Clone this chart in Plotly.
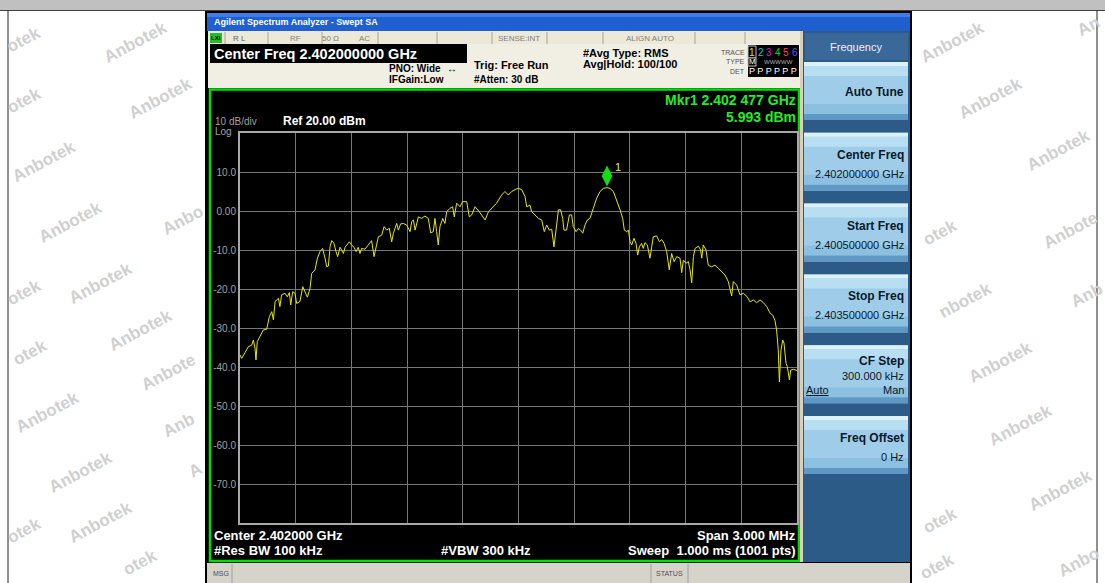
import plotly.graph_objects as go

W, H = 1105, 583
FONT = "Liberation Sans, Arial, sans-serif"

# ---------------- data ----------------
START_MHZ = 2400.5
STOP_MHZ = 2403.5
REF_DBM = 20.0
BOTTOM_DBM = -80.0

freq_offset_khz = [
    0, 9, 27, 45, 63, 72, 81, 86, 93, 108,
    126, 144, 158, 171, 180, 189, 207, 215, 224, 242,
    255, 266, 273, 284, 296, 305, 323, 338, 350, 363,
    377, 386, 404, 417, 431, 445, 458, 467, 476, 485,
    494, 506, 517, 526, 539, 557, 566, 578, 589, 601,
    614, 625, 637, 646, 655, 673, 691, 709, 722, 736,
    745, 763, 776, 790, 804, 817, 826, 844, 853, 865,
    880, 898, 916, 925, 934, 943, 961, 978, 996, 1014,
    1027, 1041, 1050, 1059, 1068, 1077, 1092, 1104, 1113, 1131,
    1145, 1154, 1167, 1185, 1199, 1221, 1235, 1248, 1266, 1289,
    1302, 1320, 1338, 1364, 1382, 1409, 1427, 1445, 1463, 1487,
    1499, 1517, 1535, 1544, 1562, 1571, 1589, 1607, 1625, 1634,
    1639, 1652, 1666, 1679, 1691, 1702, 1715, 1727, 1738, 1745,
    1759, 1774, 1786, 1795, 1810, 1822, 1835, 1846, 1858, 1871,
    1885, 1903, 1921, 1939, 1957, 1977, 1993, 2011, 2029, 2047,
    2061, 2070, 2083, 2092, 2101, 2110, 2122, 2133, 2142, 2151,
    2163, 2172, 2181, 2194, 2208, 2217, 2226, 2244, 2259, 2271,
    2284, 2298, 2312, 2325, 2338, 2352, 2370, 2379, 2388, 2402,
    2415, 2424, 2433, 2442, 2451, 2469, 2481, 2487, 2495, 2510,
    2522, 2540, 2558, 2576, 2594, 2612, 2630, 2648, 2657, 2675,
    2693, 2711, 2732, 2747, 2765, 2783, 2801, 2819, 2837, 2855,
    2869, 2881, 2890, 2899, 2905, 2914, 2923, 2930, 2941, 2948,
    2959, 2966, 2980, 3000,
]
level_dbm = [
    -36.9, -37.8, -36.3, -34.8, -34.4, -33.1, -35.2, -38.2, -33.5, -32.2,
    -30.5, -30.3, -27.1, -25.8, -27.9, -23.2, -22.4, -24.5, -21.5, -21.1,
    -22.0, -20.9, -24.1, -20.7, -21.1, -23.7, -23.2, -19.4, -20.7, -22.1,
    -19.8, -16.0, -15.1, -12.1, -10.4, -9.6, -12.1, -14.3, -14.1, -9.1,
    -7.6, -8.3, -10.4, -11.7, -9.3, -10.9, -9.3, -8.7, -7.9, -8.7,
    -9.3, -10.4, -9.3, -10.9, -9.6, -9.8, -8.7, -7.6, -11.7, -8.7,
    -6.6, -6.2, -4.0, -4.9, -4.4, -7.9, -5.7, -3.2, -4.9, -3.3,
    -3.2, -3.6, -5.3, -2.7, -2.3, -4.9, -1.5, -1.9, -1.3, -1.9,
    -5.6, -5.3, -1.9, -5.3, -8.7, -4.0, -1.9, -3.2, -0.2, 0.7,
    1.1, -1.5, 2.0, 1.1, 2.4, 2.4, -1.5, -1.0, 1.1, -0.2,
    -1.0, -2.3, -0.2, 1.1, 2.0, 4.1, 5.0, 4.1, 5.0, 5.6,
    5.8, 5.5, 3.7, 1.1, 1.5, -0.2, -1.0, -1.9, -2.3, -4.5,
    -5.3, -3.6, -4.9, -4.7, -9.2, -4.9, 0.3, 0.3, -1.9, -4.9,
    -4.9, -1.0, -1.0, -4.0, -5.3, -4.5, -4.9, -5.7, -3.6, -2.3,
    -1.9, 0.7, 3.3, 5.0, 5.8, 5.993, 5.8, 5.0, 2.8, 0.3,
    -1.9, -4.9, -5.3, -4.9, -7.9, -8.7, -7.0, -8.3, -11.3, -9.2,
    -8.3, -9.6, -8.1, -8.7, -12.1, -8.7, -6.6, -6.4, -7.9, -7.3,
    -8.3, -10.4, -15.1, -10.9, -13.0, -11.7, -12.1, -15.8, -12.6, -13.4,
    -13.0, -15.1, -18.4, -11.7, -9.6, -9.0, -10.0, -12.1, -8.7, -10.0,
    -13.9, -14.3, -13.9, -14.7, -15.6, -16.4, -18.1, -21.8, -18.1, -19.0,
    -21.5, -21.1, -22.0, -23.3, -22.8, -23.5, -22.8, -23.5, -24.5, -26.2,
    -26.7, -28.0, -30.5, -35.6, -43.8, -35.6, -33.1, -33.9, -39.1, -39.9,
    -43.3, -40.8, -40.6, -40.9,
]

marker_freq_mhz = 2402.477
marker_level_dbm = 5.993

y_tick_vals = [10, 0, -10, -20, -30, -40, -50, -60, -70]
y_tick_text = ["10.0", "0.00", "-10.0", "-20.0", "-30.0", "-40.0", "-50.0", "-60.0", "-70.0"]
x_grid_vals = [2400.8, 2401.1, 2401.4, 2401.7, 2402.0, 2402.3, 2402.6, 2402.9, 2403.2]

softkeys = [
    ("Auto Tune", None),
    ("Center Freq", "2.402000000 GHz"),
    ("Start Freq", "2.400500000 GHz"),
    ("Stop Freq", "2.403500000 GHz"),
    ("CF Step", "300.000 kHz"),
    ("Freq Offset", "0 Hz"),
]

watermarks = [
    (24, 40, "otek"), (135, 42, "Anbotek"), (24, 100, "otek"), (160, 98, "Anbotek"),
    (44, 162, "Anbotek"), (70, 222, "Anbotek"), (182, 220, "Anbo"), (100, 283, "Anbotek"),
    (24, 292, "otek"), (140, 330, "Anbotek"), (30, 352, "otek"), (168, 372, "Anbote"),
    (47, 412, "Anbotek"), (178, 425, "Anb"), (80, 472, "Anbotek"), (195, 470, "A"),
    (100, 522, "Anbotek"), (24, 530, "otek"), (140, 562, "otek"),
    (952, 42, "Anbotek"), (1088, 26, "An"), (990, 98, "Anbotek"), (1058, 150, "Anbotek"),
    (940, 232, "otek"), (1070, 230, "Anbote"), (965, 300, "nbotek"), (1086, 295, "Anb"),
    (1000, 362, "Anbotek"), (1020, 425, "Anbotek"), (1060, 490, "Anbotek"),
    (940, 520, "otek"), (1078, 562, "Anbo"), (937, 566, "otek"),
]

# ---------------- figure ----------------
freq_mhz = [START_MHZ + k / 1000.0 for k in freq_offset_khz]

fig = go.Figure()
fig.add_trace(go.Scatter(x=freq_mhz, y=level_dbm, mode="lines",
                         line=dict(color="#e8e800", width=1), hoverinfo="skip"))
DIAMOND_LIFT_DB = 3.0
fig.add_trace(go.Scatter(x=[marker_freq_mhz], y=[marker_level_dbm + DIAMOND_LIFT_DB],
                         mode="markers", marker=dict(symbol="diamond-tall", size=15, color="#10e010",
                                                      line=dict(width=0)),
                         hoverinfo="skip"))

GX0, GX1, GY0, GY1 = 240, 797, 133, 523


def px(x):
    return x / W


def py(y):
    return 1 - y / H


shapes = []


def rect(x0, y0, x1, y1, fill, line_color=None, lw=0):
    shapes.append(dict(type="rect", xref="paper", yref="paper", x0=px(x0), x1=px(x1),
                       y0=py(y1), y1=py(y0), fillcolor=fill, layer="below",
                       line=dict(color=line_color or fill, width=lw)))


def line(x0, y0, x1, y1, color, lw=1):
    shapes.append(dict(type="line", xref="paper", yref="paper", x0=px(x0), x1=px(x1),
                       y0=py(y0), y1=py(y1), layer="below", line=dict(color=color, width=lw)))


annos = []


def txt(x, y, s, size, color, bold=False, xanchor="left", angle=0, family=FONT):
    annos.append(dict(x=px(x), y=py(y), xref="paper", yref="paper",
                      text=("<b>%s</b>" % s) if bold else s, showarrow=False,
                      xanchor=xanchor, yanchor="middle", textangle=angle,
                      font=dict(size=size, color=color, family=family), borderpad=0))


# page frame
rect(0, 0, W, 10, "#c0c0c0")
line(0, 10.5, W, 10.5, "#404040", 1)
line(8, 10, 8, H, "#202020", 1)
line(1097, 10, 1097, H, "#202020", 1)

# watermarks (white margins only)
for (wx, wy, wt) in watermarks:
    txt(wx, wy, wt, 17, "#d0d0d0", bold=True, xanchor="center", angle=-28)

# analyzer window
rect(205, 11, 912, H, "#000000")
rect(207, 13, 910, 31, "#1f5fd0")
rect(207, 13, 910, 17, "#3c7ee8")
txt(213, 22, "Agilent Spectrum Analyzer - Swept SA", 9, "#ffffff", bold=True)

# row 1 status
rect(208, 31, 800, 44, "#ece9d8")
for sx in [225, 268, 322, 378, 437, 492, 547, 603, 695, 745]:
    line(sx, 32, sx, 44, "#a8a490", 1)
rect(210, 33, 222, 43, "#20c020")
txt(216, 38, "LXI", 6, "#000000", bold=True, xanchor="center")
txt(232, 38, "R L", 8, "#606060")
txt(295, 38, "RF", 8, "#808080", xanchor="center")
txt(330, 38, "50 Ω", 8, "#808080", xanchor="center")
txt(364, 38, "AC", 8, "#808080", xanchor="center")
txt(519, 38, "SENSE:INT", 8, "#808080", xanchor="center")
txt(650, 38, "ALIGN AUTO", 8, "#808080", xanchor="center")

# row 2
rect(208, 44, 800, 88, "#f1efe3")
rect(210, 44, 467, 63, "#000000")
txt(213, 54, "Center Freq 2.402000000 GHz", 14.5, "#ffffff", bold=True)
txt(442, 69, "PNO: Wide", 10, "#000000", bold=True, xanchor="right")
txt(446, 69, "↔", 10, "#000000")
txt(445, 80, "IFGain:Low", 10, "#000000", bold=True, xanchor="right")
txt(473, 65, "Trig: Free Run", 11, "#000000", bold=True)
txt(473, 80, "#Atten: 30 dB", 10, "#000000", bold=True)
txt(582, 53, "#Avg Type: RMS", 11, "#000000", bold=True)
txt(582, 64, "Avg|Hold: 100/100", 11, "#000000", bold=True)
txt(746, 52, "TRACE", 7, "#505050", xanchor="right")
txt(746, 62, "TYPE", 7, "#505050", xanchor="right")
txt(746, 71, "DET", 7, "#505050", xanchor="right")
rect(748, 45, 799, 77, "#000000")
rect(748, 46, 756, 58, "#000000", "#c0c0c0", 1)
trace_colors = ["#e8e800", "#00d0d0", "#d020d0", "#20d020", "#ff4060", "#5060ff"]
for i, c in enumerate(trace_colors):
    txt(752 + i * 8.6, 52, str(i + 1), 10, c, xanchor="center")
rect(748, 58, 756, 66, "#000000", "#c0c0c0", 1)
txt(752, 62, "M", 8, "#ffffff", xanchor="center")
txt(778, 62, "WWWWW", 6, "#b0b0b0", xanchor="center")
txt(773, 71, "P P P P P P", 9, "#ffffff", xanchor="center")

# display
rect(208, 88, 800, 562, "#000000")
rect(210, 89.5, 799, 561, "rgba(0,0,0,0)", "#00dd00", 2.5)
txt(214, 122, "10 dB/div", 10, "#a0a0a0")
txt(214, 131, "Log", 10, "#a0a0a0")
txt(282, 121, "Ref 20.00 dBm", 12, "#ffffff", bold=True)
txt(797, 100, "Mkr1 2.402 477 GHz", 14, "#22ee22", bold=True, xanchor="right")
txt(797, 117, "5.993 dBm", 14, "#22ee22", bold=True, xanchor="right")
txt(614, 167, "1", 11, "#e0e890")
txt(213, 535, "Center 2.402000 GHz", 13, "#ffffff", bold=True)
txt(797, 535, "Span 3.000 MHz", 13, "#ffffff", bold=True, xanchor="right")
txt(213, 550, "#Res BW 100 kHz", 13, "#ffffff", bold=True)
txt(440, 550, "#VBW 300 kHz", 13, "#ffffff", bold=True)
txt(797, 550, "Sweep  1.000 ms (1001 pts)", 13, "#ffffff", bold=True, xanchor="right")

# status bar
rect(207, 563, 910, H, "#d6d3ca")
line(232, 564, 232, H, "#a0a0a0", 1)
line(651, 564, 651, H, "#a0a0a0", 1)
line(688, 564, 688, H, "#a0a0a0", 1)
txt(212, 573, "MSG", 7, "#505050")
txt(655, 573, "STATUS", 7, "#505050")

# right softkey panel
rect(800, 31, 803, 562, "#d8d0b8")
rect(803, 31, 910, 562, "#2d5b88")
rect(805, 33, 908, 60, "#3a6898")
txt(856, 47, "Frequency", 11, "#e8f0f8", xanchor="center")
for k, (label, value) in enumerate(softkeys):
    top = 62 + 70.8 * k
    bot = top + 58
    rect(804, top, 908, bot, "#9fcde9")
    rect(804, top, 908, top + 4, "#dcf1fb")
    rect(804, top + 4, 908, top + 14, "#b8def2")
    rect(804, bot - 16, 908, bot - 6, "#8cc0e0")
    rect(804, bot - 6, 908, bot, "#5f98c4")
    if value is None:
        txt(905, top + 30, label, 12, "#0a1828", bold=True, xanchor="right")
    elif label == "CF Step":
        txt(905, top + 16, label, 12, "#0a1828", bold=True, xanchor="right")
        txt(905, top + 31, value, 11, "#0a1828", xanchor="right")
        txt(805, top + 45, "<u>Auto</u>", 11, "#0a1828")
        txt(905, top + 45, "Man", 11, "#0a1828", xanchor="right")
    else:
        txt(905, top + 22, label, 12, "#0a1828", bold=True, xanchor="right")
        txt(905, top + 41, value, 11, "#0a1828", xanchor="right")

fig.update_layout(
    width=W, height=H, margin=dict(l=0, r=0, t=0, b=0),
    paper_bgcolor="#ffffff", plot_bgcolor="#000000",
    showlegend=False, shapes=shapes, annotations=annos,
    xaxis=dict(domain=[px(GX0), px(GX1)], range=[START_MHZ, STOP_MHZ],
               tickvals=x_grid_vals, showticklabels=False, ticks="",
               showgrid=True, gridcolor="#777777", gridwidth=1, zeroline=False,
               showline=True, mirror=True, linecolor="#a8a8a8", linewidth=2, fixedrange=True),
    yaxis=dict(domain=[py(GY1), py(GY0)], range=[BOTTOM_DBM, REF_DBM],
               tickvals=y_tick_vals, ticktext=y_tick_text, ticks="",
               tickfont=dict(size=10, color="#a0a0a0", family=FONT),
               showgrid=True, gridcolor="#777777", gridwidth=1, zeroline=False,
               showline=True, mirror=True, linecolor="#a8a8a8", linewidth=2, fixedrange=True),
)

fig.write_html("out.html", config={"displayModeBar": False},
               post_script="document.body.style.margin='0';document.body.style.overflow='hidden';")
